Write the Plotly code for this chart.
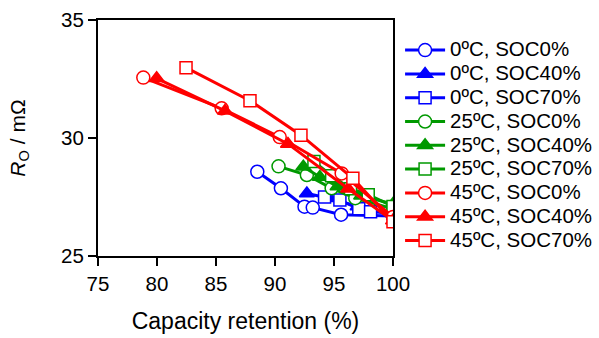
import plotly.graph_objects as go

names = ["0ºC, SOC0%", "0ºC, SOC40%", "0ºC, SOC70%",
         "25ºC, SOC0%", "25ºC, SOC40%", "25ºC, SOC70%",
         "45ºC, SOC0%", "45ºC, SOC40%", "45ºC, SOC70%"]

x_0_0 = [88.5, 90.5, 92.5, 93.2, 95.6, 100.0]
y_0_0 = [28.57, 27.87, 27.09, 27.05, 26.75, 26.7]
x_0_40 = [92.7, 94.6, 97.0, 100.0]
y_0_40 = [27.65, 27.45, 27.1, 26.8]
x_0_70 = [94.2, 95.5, 97.1, 98.1, 100.0]
y_0_70 = [27.5, 27.37, 27.0, 26.88, 26.8]

x_25_0 = [90.3, 92.7, 94.8, 96.8, 100.0]
y_25_0 = [28.8, 28.43, 27.87, 27.45, 27.0]
x_25_40 = [92.4, 93.8, 95.3, 97.3, 100.0]
y_25_40 = [28.78, 28.35, 27.95, 27.55, 27.2]
x_25_70 = [93.3, 94.8, 96.4, 97.9, 100.0]
y_25_70 = [29.0, 28.4, 27.85, 27.6, 27.1]

x_45_0 = [78.84, 85.48, 90.4, 95.65, 100.0]
y_45_0 = [32.56, 31.26, 30.04, 28.5, 26.65]
x_45_40 = [79.97, 85.76, 91.1, 96.2, 100.0]
y_45_40 = [32.53, 31.15, 29.75, 27.85, 26.5]
x_45_70 = [82.46, 87.88, 92.2, 96.6, 100.0]
y_45_70 = [32.98, 31.58, 30.12, 28.29, 26.45]

xs = [x_0_0, x_0_40, x_0_70, x_25_0, x_25_40, x_25_70, x_45_0, x_45_40, x_45_70]
ys = [y_0_0, y_0_40, y_0_70, y_25_0, y_25_40, y_25_70, y_45_0, y_45_40, y_45_70]
colors = ["#0000FF"] * 3 + ["#009900"] * 3 + ["#FF0000"] * 3
symbols = ["circle", "triangle-up", "square"] * 3

x_ticks = [75, 80, 85, 90, 95, 100]
y_ticks = [25, 30, 35]

FONT = "Liberation Sans, Arial, sans-serif"

fig = go.Figure()
for n, x, y, c, s in zip(names, xs, ys, colors, symbols):
    filled = s.startswith("triangle")
    fig.add_trace(go.Scatter(
        x=x, y=y, mode="lines+markers",
        name='<span style="font-size:20.5px">' + n + '</span>',
        line=dict(color=c, width=3),
        marker=dict(symbol=s, size=13 if s != "square" else 12,
                    color=c if filled else "white",
                    line=dict(color=c, width=1.5)),
    ))

axis_common = dict(showline=True, linecolor="black", linewidth=2, mirror=True,
                   ticks="outside", ticklen=8, tickwidth=2, tickcolor="black",
                   showgrid=False, zeroline=False, automargin=False,
                   tickfont=dict(family=FONT, size=20.5, color="black"))

fig.update_layout(
    width=599, height=338,
    margin=dict(l=98, r=206, t=20, b=82, autoexpand=False),
    plot_bgcolor="white", paper_bgcolor="white",
    font=dict(family=FONT, color="black"),
    xaxis=dict(range=[75, 100], tickvals=x_ticks,
               title=dict(text="Capacity retention (%)", font=dict(family=FONT, size=23), standoff=19),
               **axis_common),
    yaxis=dict(range=[25, 35], tickvals=y_ticks,
               title=dict(text="<i>R</i><sub>O</sub> / mΩ", font=dict(family=FONT, size=21), standoff=30),
               **axis_common),
    legend=dict(x=1.024, xanchor="left", y=0.944, yanchor="top",
                font=dict(family=FONT, size=16, color="black"),
                itemwidth=40, bgcolor="rgba(0,0,0,0)", tracegroupgap=0),
)

fig.write_html("out.html")
